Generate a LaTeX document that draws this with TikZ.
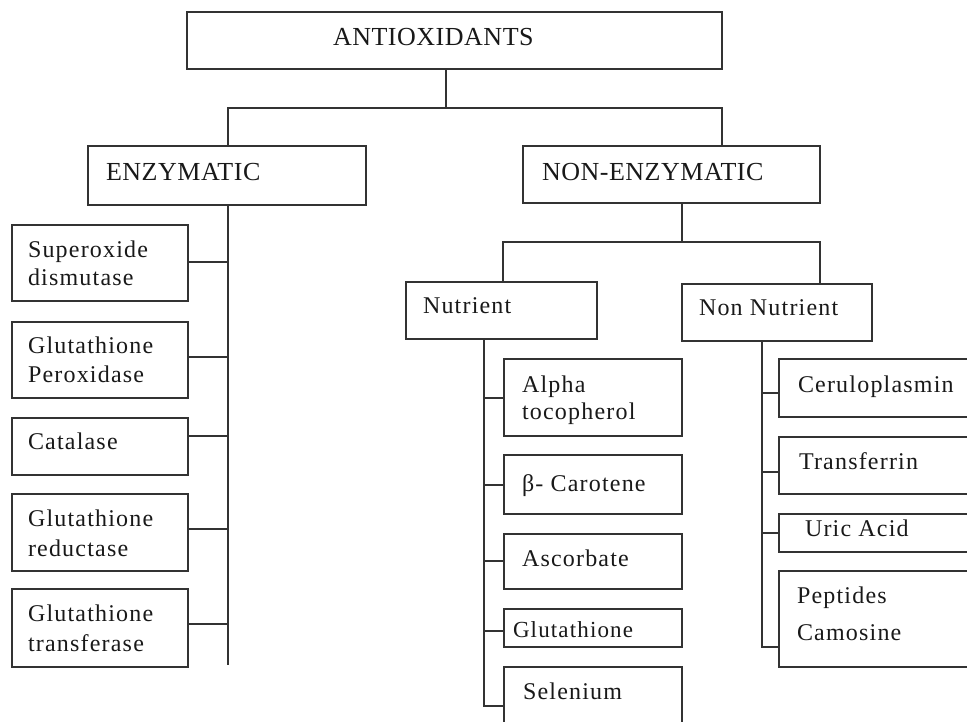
\documentclass[tikz,border=0pt]{standalone}
\usepackage{fontspec}
\setmainfont{Liberation Serif}[LetterSpace=5]
\newfontfamily\headfam{Liberation Serif}[LetterSpace=2]
\tikzset{
  box/.style={draw=black!80, line width=1.7pt, inner sep=0pt, outer sep=0pt, fill=white},
  lbl/.style={anchor=base west, inner sep=0pt, outer sep=0pt, font=\fontsize{24}{28}\selectfont, text=black!90},
  hlbl/.style={lbl, font=\headfam\fontsize{26}{28}\selectfont},
  slbl/.style={lbl, font=\fontsize{23}{25}\selectfont},
  link/.style={draw=black!80, line width=1.7pt},
}
\newcommand\bx[5]{\node[box,anchor=north west,minimum width={#4-#2},minimum height={#5-#3}] (#1) at (#2,#3) {};}
\begin{document}
\begin{tikzpicture}[x=1pt,y=-1pt]
\useasboundingbox (0,0) rectangle (967,721);
\clip (0,0) rectangle (967,721);
% boxes
\bx{top}{187}{12}{722}{69}
\bx{enz}{88}{146}{366}{205}
\bx{nenz}{523}{146}{820}{203}
\bx{sod}{12}{225}{188}{301}
\bx{gpx}{12}{322}{188}{398}
\bx{cat}{12}{418}{188}{475}
\bx{gr}{12}{494}{188}{571}
\bx{gst}{12}{589}{188}{667}
\bx{nut}{406}{282}{597}{339}
\bx{nn}{682}{284}{872}{341}
\bx{alp}{504}{359}{682}{436}
\bx{bet}{504}{455}{682}{514}
\bx{asc}{504}{534}{682}{589}
\bx{glu}{504}{609}{682}{647}
\bx{sel}{504}{667}{682}{745}
\bx{cer}{779}{359}{995}{417}
\bx{tra}{779}{437}{995}{494}
\bx{uri}{779}{514}{995}{552}
\bx{pep}{779}{571}{995}{667}
% labels
\node[hlbl] (t-top) at (333,45) {ANTIOXIDANTS};
\node[hlbl] (t-enz) at (106,180) {ENZYMATIC};
\node[hlbl] (t-nenz) at (542,180) {NON-ENZYMATIC};
\node[lbl] (t-sod1) at (28,257) {Superoxide};
\node[lbl] (t-sod2) at (28,285) {dismutase};
\node[lbl] (t-gpx1) at (28,353) {Glutathione};
\node[lbl] (t-gpx2) at (28,382) {Peroxidase};
\node[lbl] (t-cat) at (28,449) {Catalase};
\node[lbl] (t-gr1) at (28,526) {Glutathione};
\node[lbl] (t-gr2) at (28,556) {reductase};
\node[lbl] (t-gst1) at (28,621) {Glutathione};
\node[lbl] (t-gst2) at (28,651) {transferase};
\node[lbl] (t-nut) at (423,313) {Nutrient};
\node[lbl] (t-nn) at (699,315) {Non Nutrient};
\node[lbl] (t-alp1) at (522,392) {Alpha};
\node[lbl] (t-alp2) at (522,419) {tocopherol};
\node[lbl] (t-bet) at (522,491) {β- Carotene};
\node[lbl] (t-asc) at (522,566) {Ascorbate};
\node[slbl] (t-glu) at (513,637) {Glutathione};
\node[lbl] (t-sel) at (523,699) {Selenium};
\node[lbl] (t-cer) at (798,392) {Ceruloplasmin};
\node[lbl] (t-tra) at (799,469) {Transferrin};
\node[lbl] (t-uri) at (805,536) {Uric Acid};
\node[lbl] (t-pep1) at (797,603) {Peptides};
\node[lbl] (t-pep2) at (797,640) {Camosine};
% junctions
\coordinate (jt) at (446,108);
\coordinate (jl) at (228,108);
\coordinate (jr) at (722,108);
\coordinate (es) at (228,665);
\coordinate (n0) at (682,242);
\coordinate (na) at (503,242);
\coordinate (nb) at (820,242);
\coordinate (ns) at (484,706);
\coordinate (ms) at (762,647);
\coordinate (csod) at (228,262);
\coordinate (cgpx) at (228,357);
\coordinate (ccat) at (228,436);
\coordinate (cgr) at (228,529);
\coordinate (cgst) at (228,624);
\coordinate (calp) at (484,398);
\coordinate (cbet) at (484,485);
\coordinate (casc) at (484,561);
\coordinate (cglu) at (484,631);
\coordinate (ccer) at (762,393);
\coordinate (ctra) at (762,472);
\coordinate (curi) at (762,533);
% connectors
\draw[link] (top.south -| jt) -- (jt);
\draw[link] (jl |- enz.north) -- (jl) -- (jr) -- (jr |- nenz.north);
\draw[link] (enz.south -| es) -- (es);
\draw[link] (sod.east |- csod) -- (csod);
\draw[link] (gpx.east |- cgpx) -- (cgpx);
\draw[link] (cat.east |- ccat) -- (ccat);
\draw[link] (gr.east |- cgr) -- (cgr);
\draw[link] (gst.east |- cgst) -- (cgst);
\draw[link] (nenz.south -| n0) -- (n0);
\draw[link] (na |- nut.north) -- (na) -- (nb) -- (nb |- nn.north);
\draw[link] (nut.south -| ns) -- (ns) -- (sel.west |- ns);
\draw[link] (alp.west |- calp) -- (calp);
\draw[link] (bet.west |- cbet) -- (cbet);
\draw[link] (asc.west |- casc) -- (casc);
\draw[link] (glu.west |- cglu) -- (cglu);
\draw[link] (nn.south -| ms) -- (ms) -- (pep.west |- ms);
\draw[link] (cer.west |- ccer) -- (ccer);
\draw[link] (tra.west |- ctra) -- (ctra);
\draw[link] (uri.west |- curi) -- (curi);
\end{tikzpicture}
\end{document}
